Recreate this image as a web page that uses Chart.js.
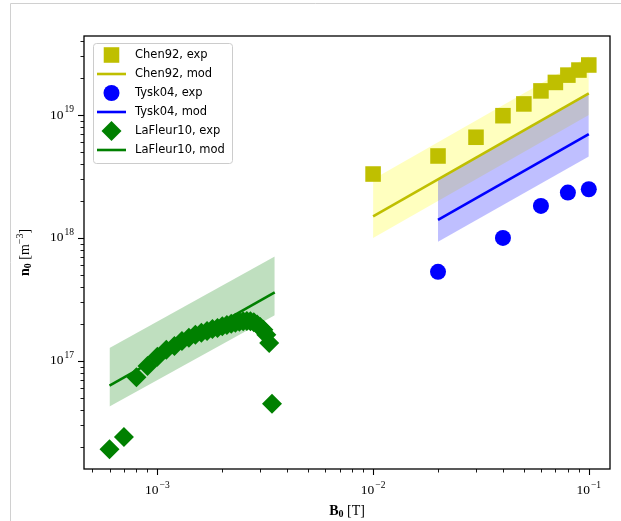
<!DOCTYPE html>
<html>
<head>
<meta charset="utf-8">
<script src="https://cdn.jsdelivr.net/npm/chart.js@4.4.1/dist/chart.umd.min.js"></script>
<style>
  html, body { margin: 0; padding: 0; background: #fff; }
  #wrap { width: 621px; height: 521px; }
</style>
</head>
<body>
<div id="wrap"><canvas id="chart" width="621" height="521"></canvas></div>
<script>
'use strict';

// --- Dados ----------------------------------------------------------------

// Chen92
const chenB = [0.01, 0.02, 0.03, 0.04, 0.05, 0.06, 0.07, 0.08, 0.09, 0.1];
const chenExp = [3.31e18, 4.64e18, 6.59e18, 9.87e18, 1.23e19, 1.57e19, 1.84e19, 2.11e19, 2.32e19, 2.55e19];
const chenModB = [0.01, 0.1];
const chenMod = [1.5e18, 1.5e19];
const chenLow = [1.0e18, 1.0e19];
const chenHigh = [3.0e18, 3.0e19];

// Tysk04
const tyskB = [0.02, 0.04, 0.06, 0.08, 0.1];
const tyskExp = [5.3e17, 1.0e18, 1.82e18, 2.34e18, 2.49e18];
const tyskModB = [0.02, 0.1];
const tyskMod = [1.4e18, 7.0e18];
const tyskLow = [9.3e17, 4.6e18];
const tyskHigh = [3.0e18, 1.5e19];

// LaFleur10
const lafB = [0.6e-3, 0.7e-3, 0.8e-3, 0.9e-3, 1.0e-3, 1.1e-3, 1.2e-3, 1.3e-3, 1.4e-3, 1.5e-3,
  1.6e-3, 1.7e-3, 1.8e-3, 1.9e-3, 2.0e-3, 2.1e-3, 2.2e-3, 2.3e-3, 2.4e-3, 2.5e-3,
  2.6e-3, 2.7e-3, 2.8e-3, 2.9e-3, 3.0e-3, 3.1e-3, 3.2e-3, 3.3e-3, 3.4e-3];
const lafExp = [1.91e16, 2.40e16, 7.37e16, 9.1e16, 1.08e17, 1.23e17, 1.32e17, 1.45e17, 1.54e17, 1.63e17,
  1.69e17, 1.75e17, 1.82e17, 1.85e17, 1.91e17, 1.96e17, 2.00e17, 2.04e17, 2.08e17, 2.10e17,
  2.11e17, 2.10e17, 2.06e17, 1.98e17, 1.89e17, 1.79e17, 1.63e17, 1.40e17, 4.47e16];
const lafModB = [6.0e-4, 3.5e-3];
const lafMod = [6.3e16, 3.6e17];
const lafLow = [4.25e16, 2.35e17];
const lafHigh = [1.27e17, 7.05e17];

// Eixos
const X_MIN = 4.57e-4, X_MAX = 0.1254;
const Y_MIN = 1.32e16, Y_MAX = 4.39e19;
const xTickValues = [1e-3, 1e-2, 1e-1];
const xTickExp = ['\u22123', '\u22122', '\u22121'];
const yTickValues = [1e17, 1e18, 1e19];
const yTickExp = ['17', '18', '19'];

// Cores (paleta do matplotlib)
const YELLOW = '#bfbf00';
const BLUE = '#0000ff';
const GREEN = '#008000';

const SERIF = '"Liberation Serif", "DejaVu Serif", serif';
const SANS = '"DejaVu Sans", sans-serif';

// --- Helpers --------------------------------------------------------------

function pts(xs, ys) { return xs.map((x, i) => ({ x, y: ys[i] })); }

function minorTicks(min, max) {
  const out = [];
  for (let e = Math.floor(Math.log10(min)); e <= Math.ceil(Math.log10(max)); e++) {
    for (let k = 2; k <= 9; k++) {
      const v = k * Math.pow(10, e);
      if (v >= min && v <= max) out.push(v);
    }
  }
  return out;
}

function drawPow(ctx, x, y, exp, align) {
  ctx.font = '13.5px ' + SERIF;
  const w1 = ctx.measureText('10').width;
  ctx.font = '9.5px ' + SERIF;
  const w2 = ctx.measureText(exp).width;
  const total = w1 + 1 + w2;
  const left = align === 'center' ? x - total / 2 : x - total;
  ctx.textAlign = 'left';
  ctx.textBaseline = 'middle';
  ctx.font = '13.5px ' + SERIF;
  ctx.fillText('10', left, y);
  ctx.font = '9.5px ' + SERIF;
  ctx.fillText(exp, left + w1 + 1, y - 5);
}

// Texto com partes (negrito / sub / sup) desenhado em sequencia.
function drawParts(ctx, parts, cx, cy) {
  const fontOf = (p) => (p.bold ? 'bold ' : '') + (p.small ? '10px ' : '14px ') + SERIF;
  let total = 0;
  parts.forEach((p) => { ctx.font = fontOf(p); p.w = ctx.measureText(p.t).width; total += p.w; });
  let x = cx - total / 2;
  ctx.textAlign = 'left';
  ctx.textBaseline = 'middle';
  parts.forEach((p) => {
    ctx.font = fontOf(p);
    ctx.fillText(p.t, x, cy + (p.dy || 0));
    x += p.w;
  });
}

// --- Plugin: moldura, ticks, titulos e legenda -----------------------------

const axesDeco = {
  id: 'axesDeco',
  beforeDraw(chart) {
    const ctx = chart.ctx;
    ctx.save();
    ctx.strokeStyle = '#d0d0d0';
    ctx.lineWidth = 1;
    ctx.beginPath();
    ctx.moveTo(10.5, 521);
    ctx.lineTo(10.5, 3.5);
    ctx.lineTo(621, 3.5);
    ctx.stroke();
    ctx.restore();
  },
  afterDraw(chart) {
    const ctx = chart.ctx;
    const ca = chart.chartArea;
    const xs = chart.scales.x, ys = chart.scales.y;
    ctx.save();
    ctx.strokeStyle = '#000';
    ctx.fillStyle = '#000';

    // ticks
    ctx.lineWidth = 1.1;
    xTickValues.forEach((v) => {
      const px = Math.round(xs.getPixelForValue(v)) + 0.5;
      ctx.beginPath(); ctx.moveTo(px, ca.bottom); ctx.lineTo(px, ca.bottom + 6); ctx.stroke();
    });
    yTickValues.forEach((v) => {
      const py = Math.round(ys.getPixelForValue(v)) + 0.5;
      ctx.beginPath(); ctx.moveTo(ca.left, py); ctx.lineTo(ca.left - 6, py); ctx.stroke();
    });
    ctx.lineWidth = 0.9;
    minorTicks(X_MIN, X_MAX).forEach((v) => {
      const px = Math.round(xs.getPixelForValue(v)) + 0.5;
      ctx.beginPath(); ctx.moveTo(px, ca.bottom); ctx.lineTo(px, ca.bottom + 3.5); ctx.stroke();
    });
    minorTicks(Y_MIN, Y_MAX).forEach((v) => {
      const py = Math.round(ys.getPixelForValue(v)) + 0.5;
      ctx.beginPath(); ctx.moveTo(ca.left, py); ctx.lineTo(ca.left - 3.5, py); ctx.stroke();
    });

    // moldura
    ctx.lineWidth = 1.3;
    ctx.strokeRect(ca.left, ca.top, ca.right - ca.left, ca.bottom - ca.top);

    // rotulos dos ticks
    xTickValues.forEach((v, i) => drawPow(ctx, xs.getPixelForValue(v), ca.bottom + 21, xTickExp[i], 'center'));
    yTickValues.forEach((v, i) => drawPow(ctx, ca.left - 10, ys.getPixelForValue(v), yTickExp[i], 'right'));

    // titulos
    drawParts(ctx, [
      { t: 'B', bold: true }, { t: '0', bold: true, small: true, dy: 3 }, { t: ' [T]' },
    ], (ca.left + ca.right) / 2, 511);
    ctx.save();
    ctx.translate(25, (ca.top + ca.bottom) / 2);
    ctx.rotate(-Math.PI / 2);
    drawParts(ctx, [
      { t: 'n', bold: true }, { t: '0', bold: true, small: true, dy: 3 }, { t: ' [m' },
      { t: '\u22123', small: true, dy: -5 }, { t: ']' },
    ], 0, 0);
    ctx.restore();

    // legenda
    const box = { x: 93, y: 43, w: 139, h: 120 };
    ctx.fillStyle = 'rgba(255,255,255,0.8)';
    ctx.strokeStyle = '#cccccc';
    ctx.lineWidth = 1;
    ctx.beginPath();
    ctx.roundRect(box.x + 0.5, box.y + 0.5, box.w, box.h, 3);
    ctx.fill();
    ctx.stroke();

    const items = chart.data.datasets.filter((ds) => ds.label);
    items.forEach((ds, i) => {
      const y = 55 + i * 19;
      if (ds.showLine) {
        ctx.strokeStyle = ds.borderColor;
        ctx.lineWidth = ds.borderWidth;
        ctx.beginPath(); ctx.moveTo(97, y); ctx.lineTo(126, y); ctx.stroke();
      } else {
        ctx.fillStyle = ds.backgroundColor;
        Chart.helpers.drawPoint(ctx, { pointStyle: ds.pointStyle, radius: ds.pointRadius, rotation: 0, borderWidth: 0 }, 111.5, y);
      }
      ctx.fillStyle = '#000';
      ctx.font = '11.5px ' + SANS;
      ctx.textAlign = 'left';
      ctx.textBaseline = 'middle';
      ctx.fillText(ds.label, 135, y);
    });
    ctx.restore();
  },
};

// --- Grafico --------------------------------------------------------------

function markers(label, xs, ys, style, radius, color, order) {
  return {
    label, data: pts(xs, ys), showLine: false, pointStyle: style, pointRadius: radius,
    backgroundColor: color, borderColor: color, pointBorderWidth: 0, order,
  };
}

function modelLine(label, xs, ys, color) {
  return {
    label, data: pts(xs, ys), showLine: true, pointRadius: 0, borderColor: color,
    borderWidth: 2.6, fill: false, order: 5,
  };
}

function band(xs, low, high, fillColor, order) {
  const edge = { pointRadius: 0, borderWidth: 0, borderColor: 'rgba(0,0,0,0)', showLine: true };
  return [
    { ...edge, data: pts(xs, low), fill: false, order },
    { ...edge, data: pts(xs, high), fill: '-1', backgroundColor: fillColor, order },
  ];
}

const datasets = [
  markers('Chen92, exp', chenB, chenExp, 'rect', 11, YELLOW, 1),
  modelLine('Chen92, mod', chenModB, chenMod, YELLOW),
  markers('Tysk04, exp', tyskB, tyskExp, 'circle', 8, BLUE, 1),
  modelLine('Tysk04, mod', tyskModB, tyskMod, BLUE),
  markers('LaFleur10, exp', lafB, lafExp, 'rectRot', 10, GREEN, 1),
  modelLine('LaFleur10, mod', lafModB, lafMod, GREEN),
  ...band(chenModB, chenLow, chenHigh, 'rgba(255,255,0,0.25)', 12),
  ...band(tyskModB, tyskLow, tyskHigh, 'rgba(0,0,255,0.25)', 11),
  ...band(lafModB, lafLow, lafHigh, 'rgba(0,128,0,0.25)', 10),
];

new Chart(document.getElementById('chart'), {
  type: 'line',
  data: { datasets },
  options: {
    responsive: false,
    animation: false,
    events: [],
    devicePixelRatio: 1,
    layout: { padding: { left: 84, top: 36, right: 8, bottom: 52 } },
    scales: {
      x: { type: 'logarithmic', min: X_MIN, max: X_MAX, bounds: 'data', display: false },
      y: { type: 'logarithmic', min: Y_MIN, max: Y_MAX, bounds: 'data', display: false },
    },
    plugins: { legend: { display: false }, tooltip: { enabled: false } },
  },
  plugins: [axesDeco],
});
</script>
</body>
</html>
